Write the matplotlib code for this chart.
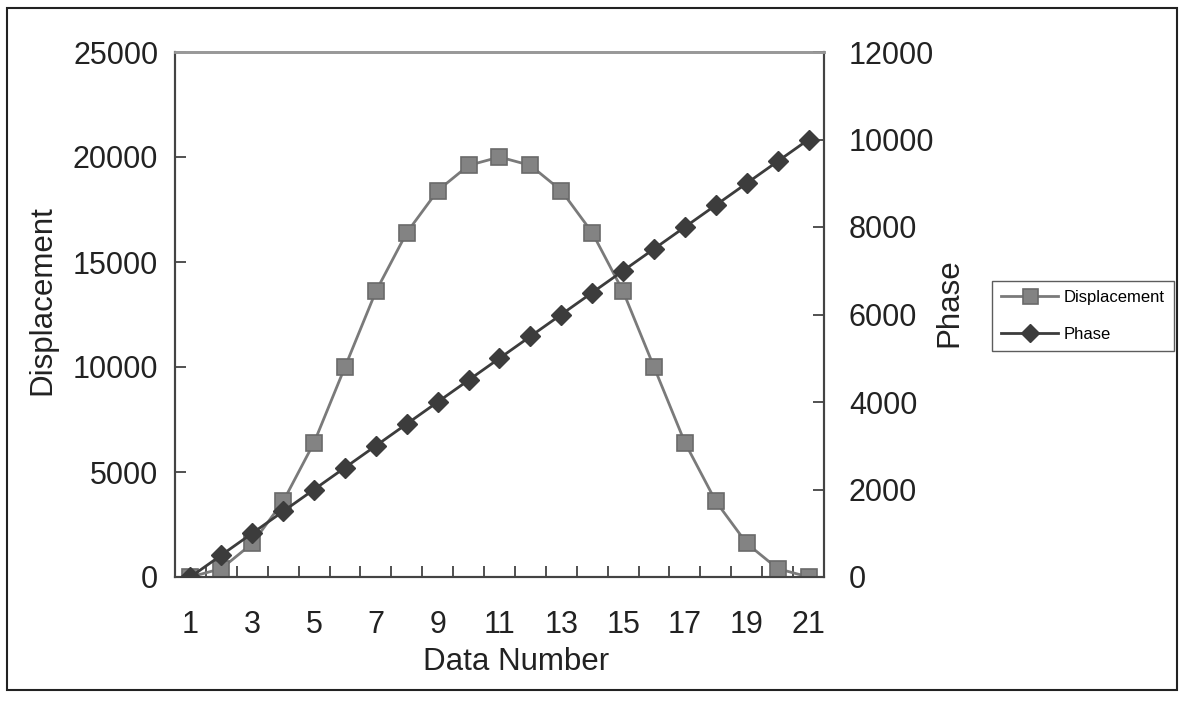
import matplotlib
matplotlib.use("Agg")
import matplotlib.pyplot as plt
from matplotlib.patches import Rectangle

plt.rcParams["font.family"] = ["Liberation Sans", "DejaVu Sans"]

# data
data_number = list(range(1, 22))
displacement = [0, 400, 1600, 3600, 6400, 10000, 13600, 16400, 18400, 19600, 20000,
                19600, 18400, 16400, 13600, 10000, 6400, 3600, 1600, 400, 0]
phase = [0, 500, 1000, 1500, 2000, 2500, 3000, 3500, 4000, 4500, 5000,
         5500, 6000, 6500, 7000, 7500, 8000, 8500, 9000, 9500, 10000]
x_labels = [str(n) for n in range(1, 22, 2)]

W, H = 1184, 707
fig = plt.figure(figsize=(W / 100, H / 100), dpi=100)
ax = fig.add_axes([175 / W, 1 - 577 / H, 649 / W, 525 / H])
ax2 = ax.twinx()

disp_col = "#7a7a7a"
phase_col = "#3c3c3c"
l1, = ax.plot(data_number, displacement, color=disp_col, lw=2, marker="s", ms=12,
              mfc="#838383", mec="#6a6a6a", mew=1.2, label="Displacement", zorder=3)
l2, = ax2.plot(data_number, phase, color=phase_col, lw=2, marker="D", ms=10,
               mfc=phase_col, mec=phase_col, label="Phase", zorder=4)

ax.set_xlim(0.5, 21.5)
ax.set_ylim(0, 25000)
ax2.set_ylim(0, 12000)
ax.set_yticks(range(0, 25001, 5000))
ax2.set_yticks(range(0, 12001, 2000))

# category style x axis: tick marks on boundaries, labels on odd numbers
ax.set_xticks([n + 0.5 for n in range(1, 21)])
ax.set_xticklabels([])
ax.set_xticks(range(1, 22, 2), minor=True)
ax.set_xticklabels(x_labels, minor=True)
ax.tick_params(axis="x", which="major", direction="in", length=8, width=1.2, color="#333333")
ax.tick_params(axis="x", which="minor", length=0, pad=24, labelsize=22, labelcolor="#222222")
ax.tick_params(axis="y", direction="in", length=8, width=1.2, color="#333333",
               labelsize=22, labelcolor="#222222", pad=12)
ax2.tick_params(axis="y", direction="in", length=8, width=1.2, color="#333333",
                labelsize=22, labelcolor="#222222", pad=18)

for a in (ax, ax2):
    for s in ("left", "bottom", "right"):
        a.spines[s].set_color("#444444")
        a.spines[s].set_linewidth(1.5)
    a.spines["top"].set_color("#999999")
    a.spines["top"].set_linewidth(2)

# axis titles placed like the original
fig.text(516 / W, 1 - 662 / H, "Data Number", fontsize=22.5, color="#222222",
         ha="center", va="center")
fig.text(42 / W, 1 - 300 / H, "Displacement", fontsize=22.5, color="#222222",
         ha="center", va="center", rotation=90)
fig.text(949 / W, 1 - 303 / H, "Phase", fontsize=22.5, color="#222222",
         ha="center", va="center", rotation=90)

leg = fig.legend(handles=[l1, l2], loc="center left",
                 bbox_to_anchor=(992 / W, 1 - 316 / H), fontsize=12,
                 frameon=True, fancybox=False, handlelength=3.4, labelspacing=1.35,
                 borderpad=0.55, handletextpad=0.35, borderaxespad=0, markerscale=0.9)
leg.get_frame().set_edgecolor("#333333")
leg.get_frame().set_linewidth(1)

# outer border
fig.patches.append(Rectangle((7 / W, 1 - 690 / H), 1170 / W, 682 / H,
                             transform=fig.transFigure, fill=False,
                             edgecolor="#222222", lw=1.5))

fig.savefig("out.png", dpi=100)
